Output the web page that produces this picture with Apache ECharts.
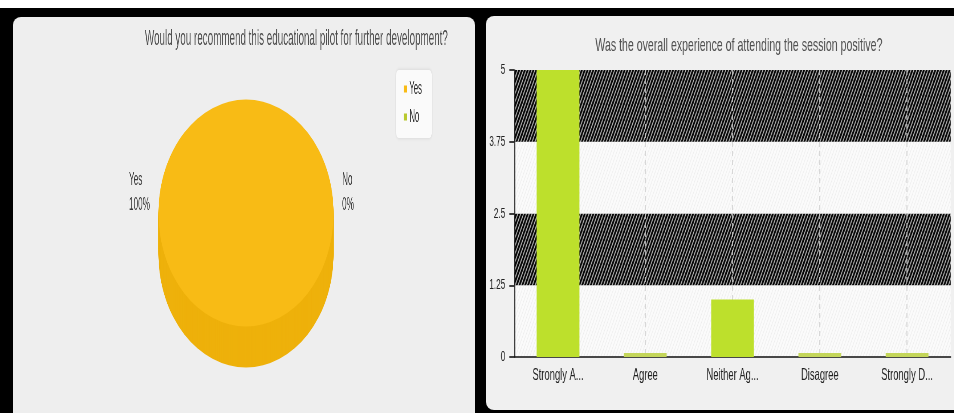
<!DOCTYPE html>
<html>
<head>
<meta charset="utf-8">
<script src="https://cdn.jsdelivr.net/npm/echarts@6/dist/echarts.min.js"></script>
<style>
html,body{margin:0;padding:0;background:#000;width:954px;height:413px;overflow:hidden;position:relative}
#topstrip{position:absolute;left:0;top:0;width:954px;height:8px;background:#fff}
#pl{position:absolute;left:13px;top:17px;width:462px;height:410px;background:#eeeeee;border-radius:8px}
#pr{position:absolute;left:486px;top:16px;width:480px;height:394px;background:#f0f0f0;border-radius:8px}
#cl{position:absolute;left:0;top:0;width:1109px;height:413px;transform:scaleX(0.43);transform-origin:0 0}
#cr{position:absolute;left:480px;top:0;width:832px;height:413px;transform:scaleX(0.57);transform-origin:0 0}
</style>
</head>
<body>
<div id="topstrip"></div>
<div id="pl"></div>
<div id="pr"></div>
<div id="cl"></div>
<div id="cr"></div>
<script>
// ---- data ----
const pieTitle = 'Would you recommend this educational pilot for further development?';
const pieCategories = ['Yes', 'No'];
const pieValues = [100, 0];
const barTitle = 'Was the overall experience of attending the session positive?';
const barCategories = ['Strongly A...', 'Agree', 'Neither Ag...', 'Disagree', 'Strongly D...'];
const barValues = [5, 0, 1, 0, 0];
const yTicks = [0, 1.25, 2.5, 3.75, 5];

// ---- style ----
const FONT = '"Liberation Sans", Arial, sans-serif';
const pieTopColors = ['#f8bb15', '#b9c92e'];
const pieSideColors = ['#eeb10b', '#a9b826'];
const BAR_COLOR = '#bde02c';
const BAR_ZERO_COLOR = '#c4d65a';

// ---- left: 3D pie ----
const SL = 0.43;
const CX = 246 / SL, CY = 213, RX = 87.5 / SL, RY = 113.5, DEPTH = 41;
const SY = RY / RX;
const LABEL_FS = 19, LABEL_LH = 25, LABEL_GAP = 20, LABEL_DY = -20.5;
const total = pieValues.reduce((a, b) => a + b, 0);
const measureCtx = document.createElement('canvas').getContext('2d');
function textWidth(str, fs) {
  measureCtx.font = fs + 'px ' + FONT;
  return Math.max.apply(null, str.split('\n').map(s => measureCtx.measureText(s).width));
}
function sliceSeries(i) {
  let before = 0;
  for (let k = 0; k < i; k++) before += pieValues[k];
  return {
    type: 'custom',
    name: pieCategories[i],
    coordinateSystem: 'none',
    itemStyle: { color: pieTopColors[i] },
    data: [pieValues[i]],
    renderItem: function (params, api) {
      const v = api.value(0);
      const a0 = before / total * Math.PI * 2;
      const a1 = (before + v) / total * Math.PI * 2;
      const children = [];
      if (a1 > a0) {
        for (let k = DEPTH; k >= 1; k--) {
          children.push({
            type: 'sector',
            shape: { cx: CX, cy: CY + k, r: RX, r0: 0, startAngle: a0, endAngle: a1 },
            originX: CX, originY: CY + k, scaleY: SY,
            style: { fill: pieSideColors[i] }, silent: true
          });
        }
        children.push({
          type: 'sector',
          shape: { cx: CX, cy: CY, r: RX, r0: 0, startAngle: a0, endAngle: a1 },
          originX: CX, originY: CY, scaleY: SY,
          style: { fill: pieTopColors[i] }
        });
      }
      const mid = (a0 + a1) / 2;
      const ex = CX + RX * Math.cos(mid);
      const ey = CY + RY * Math.sin(mid);
      const txt = pieCategories[i] + '\n' + Math.round(v / total * 100) + '%';
      const w = textWidth(txt, LABEL_FS);
      const lx = Math.cos(mid) < 0 ? ex - LABEL_GAP - w : ex + LABEL_GAP;
      children.push({
        type: 'text',
        x: lx, y: ey + LABEL_DY,
        style: {
          text: txt, fill: '#3a3a3a', fontSize: LABEL_FS, fontFamily: FONT,
          lineHeight: LABEL_LH, align: 'left', verticalAlign: 'middle'
        }
      });
      return { type: 'group', children: children };
    }
  };
}
const chartL = echarts.init(document.getElementById('cl'));
chartL.setOption({
  animation: false,
  title: {
    text: pieTitle, right: 1109 - 450 / SL, top: 22,
    textStyle: { fontFamily: FONT, fontSize: 22.9, fontWeight: 'normal', color: '#505050' }
  },
  legend: {
    orient: 'vertical', left: 396 / SL, top: 70,
    data: pieCategories.map((n, i) => ({ name: n, itemStyle: { color: pieTopColors[i] } })),
    icon: 'rect', itemWidth: 8, itemHeight: 7, itemGap: 10,
    padding: [10, 23, 12, 18],
    backgroundColor: '#fafafa', borderRadius: 6,
    shadowBlur: 4, shadowColor: 'rgba(0,0,0,0.12)',
    textStyle: { fontFamily: FONT, fontSize: 18, color: '#2a2a2a' },
    selectedMode: false
  },
  series: pieCategories.map((n, i) => sliceSeries(i))
});

// ---- right: bar chart ----
const SR = 0.57;
function hatch(bg, fg, lw) {
  const w = 5, h = 8;
  const c = document.createElement('canvas');
  c.width = w; c.height = h;
  const g = c.getContext('2d');
  g.fillStyle = bg; g.fillRect(0, 0, w, h);
  g.strokeStyle = fg; g.lineWidth = lw;
  g.beginPath();
  [-w, 0, w].forEach(o => { g.moveTo(o, h); g.lineTo(o + w, 0); });
  g.stroke();
  return { image: c, repeat: 'repeat' };
}
const lightBand = hatch('#fbfbfb', '#ececec', 1);
const darkBand = hatch('#050505', '#b4b4b4', 1.5);
const gridLeft = (514.4 - 480) / SR;
const gridRight = 832 - (950.7 - 480) / SR;
const chartR = echarts.init(document.getElementById('cr'));
chartR.setOption({
  animation: false,
  title: {
    text: barTitle, left: (736 - 480) / SR, top: 31, textAlign: 'center',
    textStyle: { fontFamily: FONT, fontSize: 18.6, fontWeight: 'normal', color: '#505050' }
  },
  grid: { left: gridLeft, right: gridRight, top: 70, bottom: 56 },
  xAxis: [{
    type: 'category', data: barCategories,
    axisLine: { lineStyle: { color: '#111', width: 1.6 } },
    axisTick: { alignWithLabel: true, length: 10, lineStyle: { color: '#111', width: 1.6 } },
    axisLabel: { fontFamily: FONT, fontSize: 16.5, color: '#222', margin: 10, interval: 0 },
    splitLine: { show: false }
  }, {
    type: 'category', boundaryGap: false, position: 'top',
    data: new Array(barCategories.length * 2 + 1).fill(''),
    axisLine: { show: false }, axisTick: { show: false }, axisLabel: { show: false },
    splitLine: { show: true, interval: (idx) => idx % 2 === 1,
      lineStyle: { color: '#d0d0d0', type: [5, 4], width: 1.6 } }
  }],
  yAxis: {
    type: 'value', min: yTicks[0], max: yTicks[yTicks.length - 1], interval: yTicks[1] - yTicks[0],
    axisLine: { show: true, lineStyle: { color: '#111', width: 1.6 } },
    axisTick: { show: true, length: 9, lineStyle: { color: '#111', width: 1.6 } },
    axisLabel: { fontFamily: FONT, fontSize: 14.5, color: '#222', margin: 16 },
    splitLine: { show: false },
    splitArea: { show: true, areaStyle: { color: [lightBand, darkBand] } }
  },
  series: [{
    type: 'bar', xAxisIndex: 0, data: barValues, barWidth: '49%', barMinHeight: 4,
    itemStyle: { color: (p) => p.value === 0 ? BAR_ZERO_COLOR : BAR_COLOR }
  }]
});
</script>
</body>
</html>
